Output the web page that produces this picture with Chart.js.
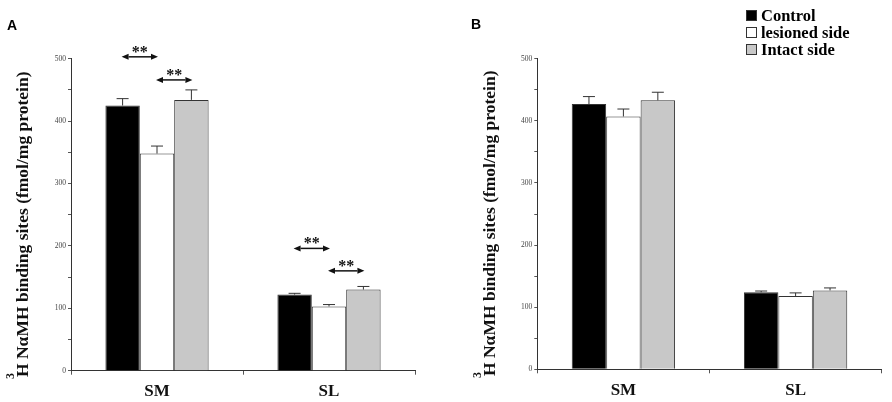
<!DOCTYPE html>
<html>
<head>
<meta charset="utf-8">
<script src="https://cdn.jsdelivr.net/npm/chart.js@4.4.0/dist/chart.umd.min.js"></script>
<style>
	html, body { margin: 0; padding: 0; background: #fff; }
	#wrap { position: relative; width: 892px; height: 402px; overflow: hidden; }
	canvas { position: absolute; top: 0; }
	#chartA { left: 0; }
	#chartB { left: 446px; }
	.panel { position: absolute; font: bold 14px "Liberation Sans", Arial, sans-serif; line-height: 14px; }
	#legend { position: absolute; left: 746px; top: 7px; font: bold 16.5px "Liberation Serif", "Times New Roman", serif; line-height: 17px; }
	#legend .row { display: flex; align-items: center; white-space: nowrap; }
	#legend .sw { width: 11px; height: 11px; border: 1px solid #333; box-sizing: border-box; margin-right: 4px; }
</style>
</head>
<body>
<div id="wrap">
	<canvas id="chartA" width="446" height="402"></canvas>
	<canvas id="chartB" width="446" height="402"></canvas>
	<div class="panel" style="left:7px; top:18px;">A</div>
	<div class="panel" style="left:471px; top:17px;">B</div>
	<div id="legend"></div>
</div>
<script>
// ---- data ----
const categories = ['SM', 'SL'];
const seriesNames = ['Control', 'lesioned side', 'Intact side'];
const seriesColors = ['#000000', '#ffffff', '#c8c8c8'];
const yTicks = [0, 100, 200, 300, 400, 500];

// panel A (means and SEM)
const controlA = [425, 122];
const lesionedA = [348, 103];
const intactA = [434, 130];
const controlErrA = [11, 2];
const lesionedErrA = [12, 3];
const intactErrA = [16, 5];

// panel B
const controlB = [427, 124];
const lesionedB = [407, 118];
const intactB = [433, 127];
const controlErrB = [12, 2];
const lesionedErrB = [12, 5];
const intactErrB = [13, 4];

// significance arrows in panel A: [category, from series, to series, height]
const sigA = [[0, 0, 1, 503], [0, 1, 2, 466], [1, 0, 1, 196], [1, 1, 2, 160]];

const yTitle = 'H N\u03b1MH binding sites (fmol/mg protein)';
const serif = '"Liberation Serif", "Times New Roman", serif';

// legend (html)
const legend = document.getElementById('legend');
seriesNames.forEach((name, i) => {
	const row = document.createElement('div');
	row.className = 'row';
	row.innerHTML = '<span class="sw" style="background:' + seriesColors[i] + '"></span><span>' + name + '</span>';
	legend.appendChild(row);
});

// error bars: upper whisker only
const errorBars = {
	id: 'errorBars',
	afterDatasetsDraw(chart) {
		const ctx = chart.ctx;
		const y = chart.scales.y;
		ctx.save();
		ctx.strokeStyle = '#333';
		ctx.lineWidth = 1;
		chart.data.datasets.forEach((ds, di) => {
			chart.getDatasetMeta(di).data.forEach((bar, i) => {
				const top = y.getPixelForValue(ds.data[i] + ds.errors[i]);
				ctx.beginPath();
				ctx.moveTo(bar.x, bar.y);
				ctx.lineTo(bar.x, top);
				ctx.moveTo(bar.x - 6, top);
				ctx.lineTo(bar.x + 6, top);
				ctx.stroke();
			});
		});
		ctx.restore();
	}
};

// double-headed arrows with ** between bars
const sigArrows = {
	id: 'sigArrows',
	afterDatasetsDraw(chart, args, opts) {
		if (!opts.marks) return;
		const ctx = chart.ctx;
		const y = chart.scales.y;
		ctx.save();
		ctx.fillStyle = '#111';
		ctx.strokeStyle = '#111';
		ctx.lineWidth = 1.5;
		opts.marks.forEach(m => {
			const x1 = chart.getDatasetMeta(m[1]).data[m[0]].x - 1;
			const x2 = chart.getDatasetMeta(m[2]).data[m[0]].x + 1;
			const yy = y.getPixelForValue(m[3]);
			const head = 7, hw = 3;
			ctx.beginPath();
			ctx.moveTo(x1 + head, yy);
			ctx.lineTo(x2 - head, yy);
			ctx.stroke();
			ctx.beginPath();
			ctx.moveTo(x1, yy);
			ctx.lineTo(x1 + head, yy - hw);
			ctx.lineTo(x1 + head, yy + hw);
			ctx.closePath();
			ctx.moveTo(x2, yy);
			ctx.lineTo(x2 - head, yy - hw);
			ctx.lineTo(x2 - head, yy + hw);
			ctx.closePath();
			ctx.fill();
			ctx.font = 'bold 16px ' + serif;
			ctx.textAlign = 'center';
			ctx.textBaseline = 'alphabetic';
			ctx.fillText('**', (x1 + x2) / 2, yy);
		});
		ctx.restore();
	}
};

// rotated y title with superscript 3
const yTitlePlugin = {
	id: 'yTitleSup',
	afterDraw(chart, args, opts) {
		const ctx = chart.ctx;
		ctx.save();
		ctx.translate(opts.x, opts.y);
		ctx.rotate(-Math.PI / 2);
		ctx.fillStyle = '#111';
		ctx.textAlign = 'left';
		ctx.textBaseline = 'alphabetic';
		ctx.font = 'bold 12px ' + serif;
		ctx.fillText('3', 0, -14);
		ctx.font = 'bold 17.5px ' + serif;
		ctx.fillText(yTitle, 2, 0);
		ctx.restore();
	}
};

function makeChart(id, vals, errs, geom, marks) {
	const datasets = seriesNames.map((name, i) => ({
		label: name,
		data: vals[i],
		errors: errs[i],
		backgroundColor: seriesColors[i],
		borderColor: '#333',
		borderWidth: 1,
		borderSkipped: 'start',
		categoryPercentage: 0.6,
		barPercentage: 1.0
	}));
	return new Chart(document.getElementById(id), {
		type: 'bar',
		data: { labels: categories, datasets: datasets },
		options: {
			responsive: false,
			animation: false,
			devicePixelRatio: 1,
			layout: { padding: { top: geom.top, right: geom.right, left: 0, bottom: 0 } },
			plugins: {
				legend: { display: false },
				tooltip: { enabled: false },
				sigArrows: { marks: marks },
				yTitleSup: { x: geom.titleX, y: geom.titleY }
			},
			scales: {
				x: {
					grid: { drawOnChartArea: false, drawTicks: true, tickLength: 4, color: '#555', offset: true },
					border: { display: true, color: '#333', width: 1 },
					ticks: { color: '#111', font: { family: serif, size: 17, weight: 'bold' }, padding: 7 },
					afterFit: s => { s.height = geom.xHeight; }
				},
				y: {
					min: 0,
					max: 500,
					grid: { drawOnChartArea: false, drawTicks: true, tickLength: 3, color: '#555' },
					border: { display: true, color: '#333', width: 1 },
					ticks: {
						stepSize: 50,
						color: '#444',
						padding: 2,
						font: { family: serif, size: 7.5 },
						callback: v => (yTicks.includes(v) ? v : '')
					},
					afterFit: s => { s.width = geom.yWidth; }
				}
			}
		},
		plugins: [errorBars, sigArrows, yTitlePlugin]
	});
}

makeChart('chartA',
	[controlA, lesionedA, intactA],
	[controlErrA, lesionedErrA, intactErrA],
	{ top: 58.7, right: 31, yWidth: 71, xHeight: 31.3, titleX: 28, titleY: 379 },
	sigA);

makeChart('chartB',
	[controlB, lesionedB, intactB],
	[controlErrB, lesionedErrB, intactErrB],
	{ top: 58.7, right: 10.3, yWidth: 91.3, xHeight: 32.7, titleX: 49, titleY: 378 },
	null);
</script>
</body>
</html>
